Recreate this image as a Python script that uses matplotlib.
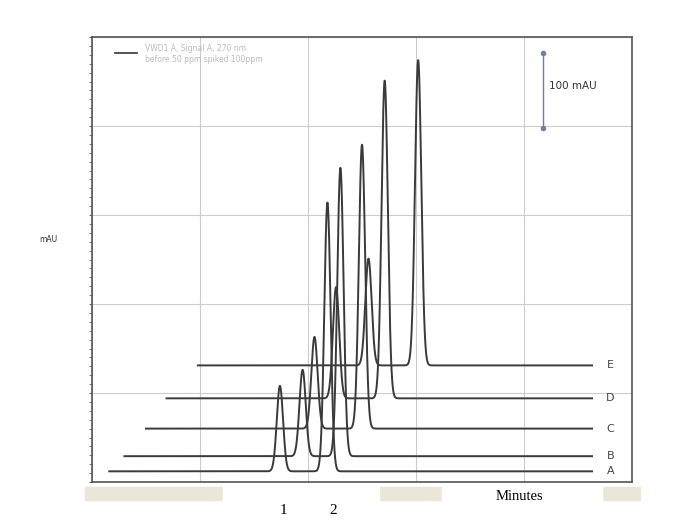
import numpy as np
import matplotlib
matplotlib.use('Agg')
import matplotlib.pyplot as plt
from matplotlib.patches import Rectangle

# traces A..E : baseline offset (mAU), start time (min), two peaks each
traces = ['A', 'B', 'C', 'D', 'E']
baselines = [12, 29, 60, 94, 131]
starts = [0.16, 0.30, 0.50, 0.69, 0.98]
end_time = 4.63
peak1_time = [1.74, 1.95, 2.06, 2.26, 2.56]
peak1_height = [96, 97, 103, 125, 120]
peak2_time = [2.18, 2.30, 2.50, 2.71, 3.02]
peak2_height = [302, 324, 319, 357, 343]
peak_sigma = 0.029

W, H = 674, 522
fig = plt.figure(figsize=(W / 100, H / 100), dpi=100)
ax = fig.add_axes([92 / W, 1 - 482 / H, 540 / W, 445 / H])

for name, base, t0, p1, h1, p2, h2 in zip(traces, baselines, starts,
                                          peak1_time, peak1_height,
                                          peak2_time, peak2_height):
    t = np.linspace(t0, end_time, 3000)
    y = (base + h1 * np.exp(-0.5 * ((t - p1) / peak_sigma) ** 2)
         + h2 * np.exp(-0.5 * ((t - p2) / peak_sigma) ** 2))
    ax.plot(t, y, color='#3a3a3a', lw=1.4, zorder=3)
    ax.text(end_time + 0.17, base, name, fontsize=8, color='#444444',
            ha='center', va='center')

ax.set_xlim(0, 5)
ax.set_ylim(0, 500)
ax.set_xticks(np.arange(0, 6, 1))
ax.set_yticks(np.arange(0, 600, 100))
ax.set_yticks(np.arange(0, 500, 10), minor=True)
ax.grid(True, color='#cccccc', lw=0.8)
ax.tick_params(axis='x', length=0, labelbottom=False)
ax.tick_params(axis='y', which='both', direction='out', length=2,
               color='#666666', labelleft=False)
for s in ax.spines.values():
    s.set_color('#555555')
    s.set_linewidth(1.2)

# scale bar
ax.plot([4.18, 4.18], [398, 482], color='#6f7f9f', lw=1.0,
        marker='o', markersize=3, zorder=4)
ax.text(4.23, 445, '100 mAU', fontsize=7.5, color='#333333', va='center')

# legend
ax.plot([0.21, 0.42], [482, 482], color='#333333', lw=1.2)
ax.text(0.49, 487, 'VWD1 A, Signal A, 270 nm', fontsize=5.5,
        color='#bbbbbb', va='center')
ax.text(0.49, 475, 'before 50 ppm spiked 100ppm', fontsize=5.5,
        color='#bbbbbb', va='center')

fig.text(48 / W, 1 - 240 / H, 'mAU', fontsize=5.5, color='#333333',
         ha='center', va='center')

# bottom band with white label boxes
fig.patches.append(Rectangle((85 / W, 1 - 500 / H), 555 / W, 13 / H,
                             transform=fig.transFigure, color='#ebe7d8',
                             zorder=0))
fig.patches.append(Rectangle((223 / W, 0), 156 / W, 1 - 487 / H,
                             transform=fig.transFigure, color='white',
                             zorder=1))
fig.patches.append(Rectangle((442 / W, 1 - 522 / H), 160 / W, 36 / H,
                             transform=fig.transFigure, color='white',
                             zorder=1))
fig.text(283 / W, 1 - 511 / H, '1', fontsize=11, family='Liberation Serif',
         ha='center', va='center')
fig.text(333 / W, 1 - 511 / H, '2', fontsize=11, family='Liberation Serif',
         ha='center', va='center')
fig.text(519 / W, 1 - 497 / H, 'Minutes', fontsize=10.5,
         family='Liberation Serif', ha='center', va='center')

fig.savefig('out.png', dpi=100)
